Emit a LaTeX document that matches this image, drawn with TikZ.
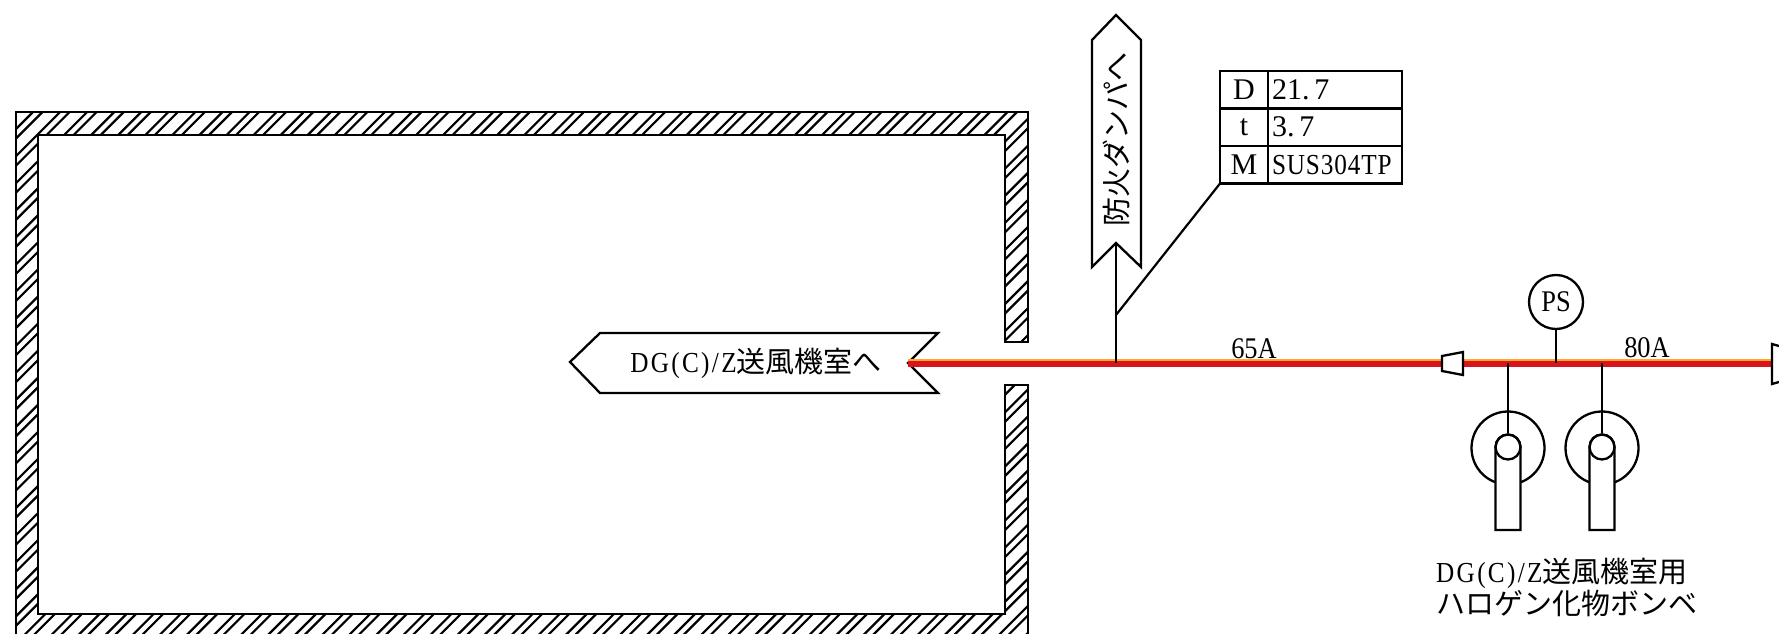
\documentclass[tikz,border=0pt]{standalone}
\usepackage{fontspec}
\newfontfamily\jpfont{Noto Sans CJK JP}
\newfontfamily\serifnum{Liberation Serif}
\newfontfamily\latnarrow[FakeStretch=0.87,LetterSpace=8]{Liberation Serif}
\newfontfamily\latcell[FakeStretch=0.87,LetterSpace=3]{Liberation Serif}
\newfontfamily\latnarrowb[FakeStretch=0.88]{Liberation Serif}
\tikzset{
  ink/.style={draw=black,line width=2.3pt,line join=miter},
  thinline/.style={draw=black,line width=2.2pt},
  cell/.style={draw=black,line width=2.3pt,inner sep=0pt,outer sep=0pt,minimum height=37.5pt,font=\fontsize{30}{30}\selectfont\serifnum},
  headcell/.style={cell,minimum width=48pt},
  datacell/.style={cell,minimum width=134pt,align=left,text width=126pt},
  jptext/.style={inner sep=0pt,font=\fontsize{29}{32}\selectfont\jpfont},
  sizetext/.style={inner sep=0pt,font=\fontsize{30}{30}\selectfont\latnarrowb},
  bottlebody/.style={draw=black,line width=2.3pt,fill=white},
}
\begin{document}
\begin{tikzpicture}[x=1pt,y=-1pt]
\useasboundingbox (0,0) rectangle (1779,634);
\fill[white] (0,0) rectangle (1779,634);
% wall
\begin{scope}
\clip (16,112) -- (1028,112) -- (1028,342) -- (1005,342) -- (1005,135) -- (38,135) -- (38,614) -- (1005,614) -- (1005,385) -- (1028,385) -- (1028,640) -- (16,640) -- cycle;
\foreach \k in {-5,...,60}{
  \draw[line width=2.2pt] ({145+27.07*\k},0) -- (0,{145+27.07*\k});
  \draw[line width=2.2pt] ({154.5+27.07*\k},0) -- (0,{154.5+27.07*\k});
}
\end{scope}
\draw[ink] (16,640) -- (16,112) -- (1028,112) -- (1028,342) -- (1005,342) -- (1005,135) -- (38,135) -- (38,614) -- (1005,614) -- (1005,385) -- (1028,385) -- (1028,640);
% flags
\coordinate (notchL) at (908,363);
\coordinate (notchU) at (1116,243);
\draw[ink,fill=white] (570,362) -- (600,333) -- (938,333) -- (notchL) -- (938,393) -- (600,393) -- cycle;
\draw[ink,fill=white] (1116,15) -- (1141,40) -- (1141,267) -- (notchU) -- (1092,267) -- (1092,40) -- cycle;
\node[jptext] (flagL) at (756,363) {{\latnarrow DG(C)/Z}送風機室へ};
\node[jptext,rotate=90] (flagU) at (1116,139) {防火ダンパへ};
% pipe
\coordinate (pipeEnd) at (1772,363);
\coordinate (tapStem) at (1116,363);
\coordinate (tapPS) at (1556,363);
\coordinate (tapA) at (1508,363);
\coordinate (tapB) at (1602,363);
\draw[line width=7pt,draw={rgb,255:red,218;green,20;blue,30}] (notchL) -- (pipeEnd);
\draw[line width=1.6pt,draw={rgb,255:red,250;green,170;blue,40}] ([yshift=2.8pt]notchL) -- ([yshift=2.8pt]pipeEnd);
% table
\node[headcell,anchor=north west] (tD) at (1220,71) {D};
\node[headcell,anchor=north west] (tt) at (1220,108.5) {t};
\node[headcell,anchor=north west] (tM) at (1220,146) {M};
\node[datacell,anchor=north west] (vD) at (1268,71) {21.\,7};
\node[datacell,anchor=north west] (vt) at (1268,108.5) {3.\,7};
\node[datacell,anchor=north west] (vM) at (1268,146) {\latcell\fontsize{29}{29}\selectfont SUS304TP};
\coordinate (leaderFoot) at (1116,315);
\draw[thinline] (notchU) -- (tapStem);
\draw[thinline] (leaderFoot) -- (tM.south west);
% labels
\node[sizetext] (size65) at (1254,349) {65A};
\node[sizetext] (size80) at (1647,348) {80A};
% reducers
\draw[ink,fill=white] (1442,356) -- (1463,352) -- (1463,375) -- (1442,371) -- cycle;
\draw[ink] (1779,346) -- (1772,344) -- (1772,384) -- (1779,382);
% pressure switch
\node[circle,draw=black,line width=2.3pt,minimum size=54pt,inner sep=0pt,font=\fontsize{30}{30}\selectfont\latnarrowb] (ps) at (1556,302) {PS};
\draw[thinline] (ps.south) -- (tapPS);
% bottles
\foreach \n/\x in {A/1508,B/1602}{
  \node[circle,draw=black,line width=2.3pt,minimum size=73pt,inner sep=0pt] (big\n) at (\x,448) {};
  \draw[bottlebody] (\x-12.5,447) -- (\x-12.5,530) -- (\x+12.5,530) -- (\x+12.5,447) arc[start angle=0,end angle=180,radius=12.5pt] -- cycle;
  \node[circle,draw=black,line width=2.3pt,minimum size=25pt,inner sep=0pt] (neck\n) at (\x,447) {};
  \draw[thinline] (tap\n) -- (neck\n.north);
}
\node[jptext,anchor=west] (bot1) at (1436,573) {{\latnarrow DG(C)/Z}送風機室用};
\node[jptext,anchor=west] (bot2) at (1436,603) {ハロゲン化物ボンベ};
\end{tikzpicture}
\end{document}
